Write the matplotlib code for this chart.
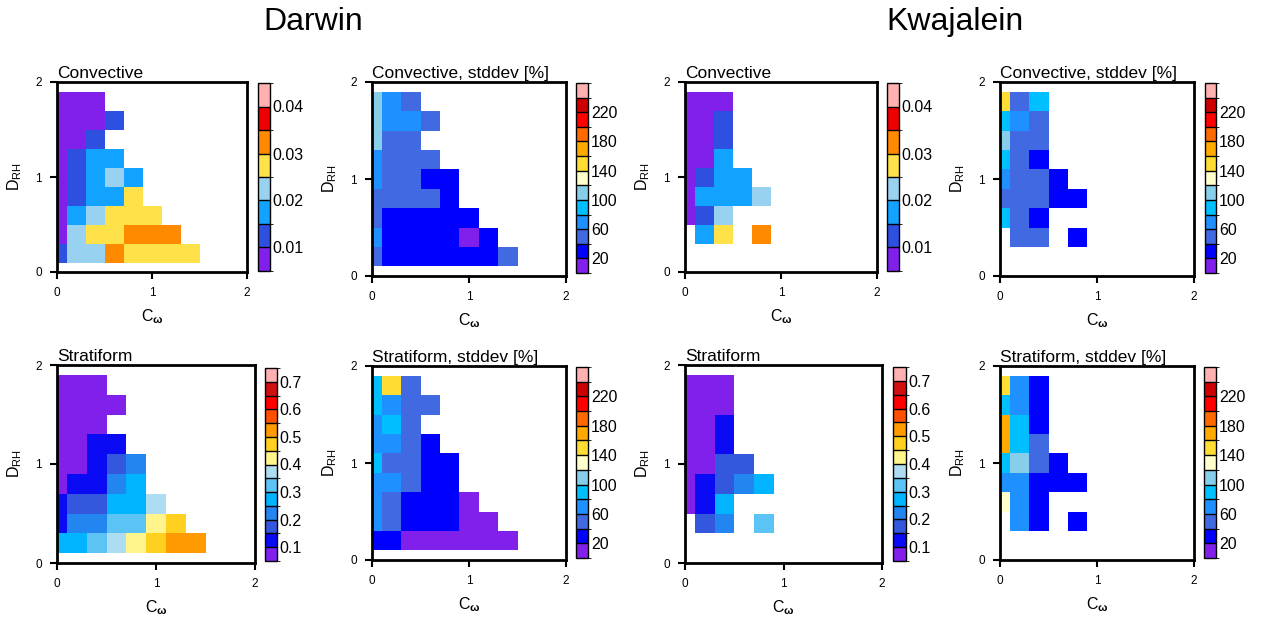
import numpy as np
import matplotlib
matplotlib.use("Agg")
import matplotlib.pyplot as plt
from matplotlib.colors import ListedColormap, BoundaryNorm
from matplotlib.cm import ScalarMappable

plt.rcParams['font.family'] = ['Liberation Sans', 'DejaVu Sans']
plt.rcParams['mathtext.fontset'] = 'custom'
plt.rcParams['mathtext.rm'] = 'Liberation Sans'
plt.rcParams['mathtext.it'] = 'Liberation Sans:italic'
plt.rcParams['mathtext.bf'] = 'Liberation Sans:bold'

n = np.nan
# bin centres
x_centers = [0.0, 0.2, 0.4, 0.6, 0.8, 1.0, 1.2, 1.4]
y_centers = [0.2, 0.4, 0.6, 0.8, 1.0, 1.2, 1.4, 1.6, 1.8]

# ---- data: rows listed from top (D_RH=1.8) to bottom (D_RH=0.2) ----
darwin_conv_mean = [
    [0.0075, 0.0075, 0.0075, n, n, n, n, n],
    [0.0075, 0.0075, 0.0075, 0.0125, n, n, n, n],
    [0.0075, 0.0075, 0.0125, n, n, n, n, n],
    [0.0075, 0.0125, 0.0175, 0.0175, n, n, n, n],
    [0.0075, 0.0125, 0.0175, 0.0225, 0.0175, n, n, n],
    [0.0075, 0.0125, 0.0175, 0.0175, 0.0275, n, n, n],
    [0.0075, 0.0175, 0.0225, 0.0275, 0.0275, 0.0275, n, n],
    [0.0075, 0.0225, 0.0275, 0.0275, 0.0325, 0.0325, 0.0325, n],
    [0.0125, 0.0225, 0.0225, 0.0325, 0.0275, 0.0275, 0.0275, 0.0275],
]
darwin_conv_sd = [
    [110, 70, 50, n, n, n, n, n],
    [110, 70, 70, 50, n, n, n, n],
    [110, 50, 50, n, n, n, n, n],
    [70, 50, 50, 50, n, n, n, n],
    [70, 50, 50, 30, 30, n, n, n],
    [50, 50, 50, 50, 30, n, n, n],
    [50, 30, 30, 30, 30, 30, n, n],
    [70, 30, 30, 30, 30, 10, 30, n],
    [50, 30, 30, 30, 30, 30, 30, 50],
]
kwaj_conv_mean = [
    [0.0075, 0.0075, 0.0075, n, n, n, n, n],
    [0.0075, 0.0075, 0.0125, n, n, n, n, n],
    [0.0075, 0.0075, 0.0125, n, n, n, n, n],
    [0.0075, 0.0075, 0.0175, n, n, n, n, n],
    [0.0075, 0.0125, 0.0175, 0.0175, n, n, n, n],
    [0.0075, 0.0175, 0.0175, 0.0175, 0.0225, n, n, n],
    [0.0075, 0.0125, 0.0225, n, n, n, n, n],
    [n, 0.0175, 0.0275, n, 0.0325, n, n, n],
    [n, n, n, n, n, n, n, n],
]
kwaj_conv_sd = [
    [150, 50, 90, n, n, n, n, n],
    [90, 70, 50, n, n, n, n, n],
    [110, 50, 50, n, n, n, n, n],
    [90, 50, 30, n, n, n, n, n],
    [70, 50, 50, 30, n, n, n, n],
    [50, 50, 50, 30, 30, n, n, n],
    [90, 50, 30, n, n, n, n, n],
    [n, 50, 50, n, 30, n, n, n],
    [n, n, n, n, n, n, n, n],
]
darwin_strat_mean = [
    [0.075, 0.075, 0.075, n, n, n, n, n],
    [0.075, 0.075, 0.075, 0.075, n, n, n, n],
    [0.075, 0.075, 0.075, n, n, n, n, n],
    [0.075, 0.075, 0.125, 0.125, n, n, n, n],
    [0.075, 0.075, 0.125, 0.175, 0.225, n, n, n],
    [0.075, 0.125, 0.125, 0.225, 0.275, n, n, n],
    [0.125, 0.175, 0.175, 0.275, 0.275, 0.375, n, n],
    [0.125, 0.225, 0.225, 0.325, 0.325, 0.425, 0.475, n],
    [0.275, 0.275, 0.325, 0.375, 0.425, 0.475, 0.525, 0.525],
]
darwin_strat_sd = [
    [90, 150, 50, n, n, n, n, n],
    [90, 70, 50, 50, n, n, n, n],
    [70, 90, 50, n, n, n, n, n],
    [70, 70, 50, 30, n, n, n, n],
    [90, 50, 50, 30, 30, n, n, n],
    [70, 70, 50, 30, 30, n, n, n],
    [70, 50, 30, 30, 30, 10, n, n],
    [70, 50, 30, 30, 30, 10, 10, n],
    [30, 30, 10, 10, 10, 10, 10, 10],
]
kwaj_strat_mean = [
    [0.075, 0.075, 0.075, n, n, n, n, n],
    [0.075, 0.075, 0.075, n, n, n, n, n],
    [0.075, 0.075, 0.125, n, n, n, n, n],
    [0.075, 0.075, 0.125, n, n, n, n, n],
    [0.075, 0.075, 0.175, 0.175, n, n, n, n],
    [0.075, 0.125, 0.175, 0.225, 0.275, n, n, n],
    [0.075, 0.125, 0.275, n, n, n, n, n],
    [n, 0.175, 0.225, n, 0.325, n, n, n],
    [n, n, n, n, n, n, n, n],
]
kwaj_strat_sd = [
    [150, 70, 30, n, n, n, n, n],
    [90, 70, 30, n, n, n, n, n],
    [170, 90, 30, n, n, n, n, n],
    [170, 90, 50, n, n, n, n, n],
    [90, 110, 50, 30, n, n, n, n],
    [70, 70, 30, 30, 30, n, n, n],
    [130, 70, 30, n, n, n, n, n],
    [n, 70, 30, n, 30, n, n, n],
    [n, n, n, n, n, n, n, n],
]

# ---- colour scales ----
conv_levels = [0.005, 0.01, 0.015, 0.02, 0.025, 0.03, 0.035, 0.04, 0.045]
conv_ticks = [0.01, 0.02, 0.03, 0.04]
conv_colors = ['#8020EA', '#2E50E0', '#12A2FF', '#98D2F0', '#FFE24A',
               '#FF8A00', '#EE0000', '#FFB0B0']
sd_levels = list(range(0, 261, 20))
sd_ticks = [20, 60, 100, 140, 180, 220]
sd_colors = ['#8020EA', '#0000FF', '#4169E1', '#1E90FF', '#00BFFF', '#87CEEB',
             '#FFFFCC', '#FFDD33', '#FFAA00', '#FF6A00', '#FF0000', '#CC0000',
             '#FFB0B0']
strat_levels = [round(0.05 * i, 2) for i in range(1, 16)]
strat_ticks = [0.1, 0.2, 0.3, 0.4, 0.5, 0.6, 0.7]
strat_colors = ['#8020EA', '#0A0AF5', '#3358DD', '#2285F0', '#00B4FF', '#5BC4F5',
                '#AEDCF3', '#FFF58C', '#FFD020', '#FF9A00', '#FF5000', '#FF0000',
                '#D01010', '#FFB0B0']

W, H = 1266, 620
fig = plt.figure(figsize=(W / 100, H / 100), dpi=100)


def rect(x0, y0, x1, y1):
    return [x0 / W, 1 - y1 / H, (x1 - x0) / W, (y1 - y0) / H]


xc = np.array(x_centers)
yc = np.array(y_centers)
xe = np.concatenate([xc - 0.1, [xc[-1] + 0.1]])
ye = np.concatenate([yc - 0.1, [yc[-1] + 0.1]])

panels = [
    (darwin_conv_mean, 'Convective', conv_levels, conv_colors, conv_ticks, (57, 82, 247, 272), (258, 83, 270, 271)),
    (darwin_conv_sd, 'Convective, stddev [%]', sd_levels, sd_colors, sd_ticks, (372, 82, 566, 276), (576, 83, 588, 273)),
    (kwaj_conv_mean, 'Convective', conv_levels, conv_colors, conv_ticks, (685, 82, 877, 272), (887, 83, 899, 271)),
    (kwaj_conv_sd, 'Convective, stddev [%]', sd_levels, sd_colors, sd_ticks, (1000, 82, 1194, 276), (1205, 83, 1216, 273)),
    (darwin_strat_mean, 'Stratiform', strat_levels, strat_colors, strat_ticks, (57, 365, 255, 563), (265, 368, 277, 561)),
    (darwin_strat_sd, 'Stratiform, stddev [%]', sd_levels, sd_colors, sd_ticks, (372, 366, 566, 560), (576, 367, 588, 558)),
    (kwaj_strat_mean, 'Stratiform', strat_levels, strat_colors, strat_ticks, (685, 365, 882, 563), (893, 367, 906, 561)),
    (kwaj_strat_sd, 'Stratiform, stddev [%]', sd_levels, sd_colors, sd_ticks, (1000, 366, 1194, 560), (1204, 367, 1216, 558)),
]

for data, title, levels, colors, ticks, arect, crect in panels:
    ax = fig.add_axes(rect(*arect))
    cmap = ListedColormap(colors)
    norm = BoundaryNorm(levels, cmap.N)
    Z = np.array(data, dtype=float)[::-1]
    ax.pcolormesh(xe, ye, np.ma.masked_invalid(Z), cmap=cmap, norm=norm)
    ax.set_xlim(0, 2)
    ax.set_ylim(0, 2)
    ax.set_xticks([0, 1, 2])
    ax.set_yticks([0, 1, 2])
    for s in ax.spines.values():
        s.set_linewidth(2)
    ax.tick_params(direction='out', length=5, width=1.5, labelsize=8.5, pad=6)
    ax.set_xlabel(r'C$_\mathbf{\omega}$', fontsize=11.5, labelpad=6)
    ax.set_ylabel(r'D$_\mathrm{RH}$', fontsize=11.5, labelpad=8)
    ax.set_title(title, loc='left', fontsize=12.5, pad=3)

    cax = fig.add_axes(rect(*crect))
    cb = fig.colorbar(ScalarMappable(norm=norm, cmap=cmap), cax=cax,
                      drawedges=True, ticks=ticks)
    cb.outline.set_linewidth(1)
    cb.dividers.set_linewidth(1)
    cb.dividers.set_color('black')
    cax.tick_params(length=0, labelsize=11.5, pad=2)
    cax.set_yticklabels([f'{t:g}' for t in ticks])

fig.text(313 / W, 1 - 22 / H, 'Darwin', fontsize=23, ha='center', va='center')
fig.text(955 / W, 1 - 22 / H, 'Kwajalein', fontsize=23, ha='center', va='center')

fig.savefig('out.png', dpi=100)
